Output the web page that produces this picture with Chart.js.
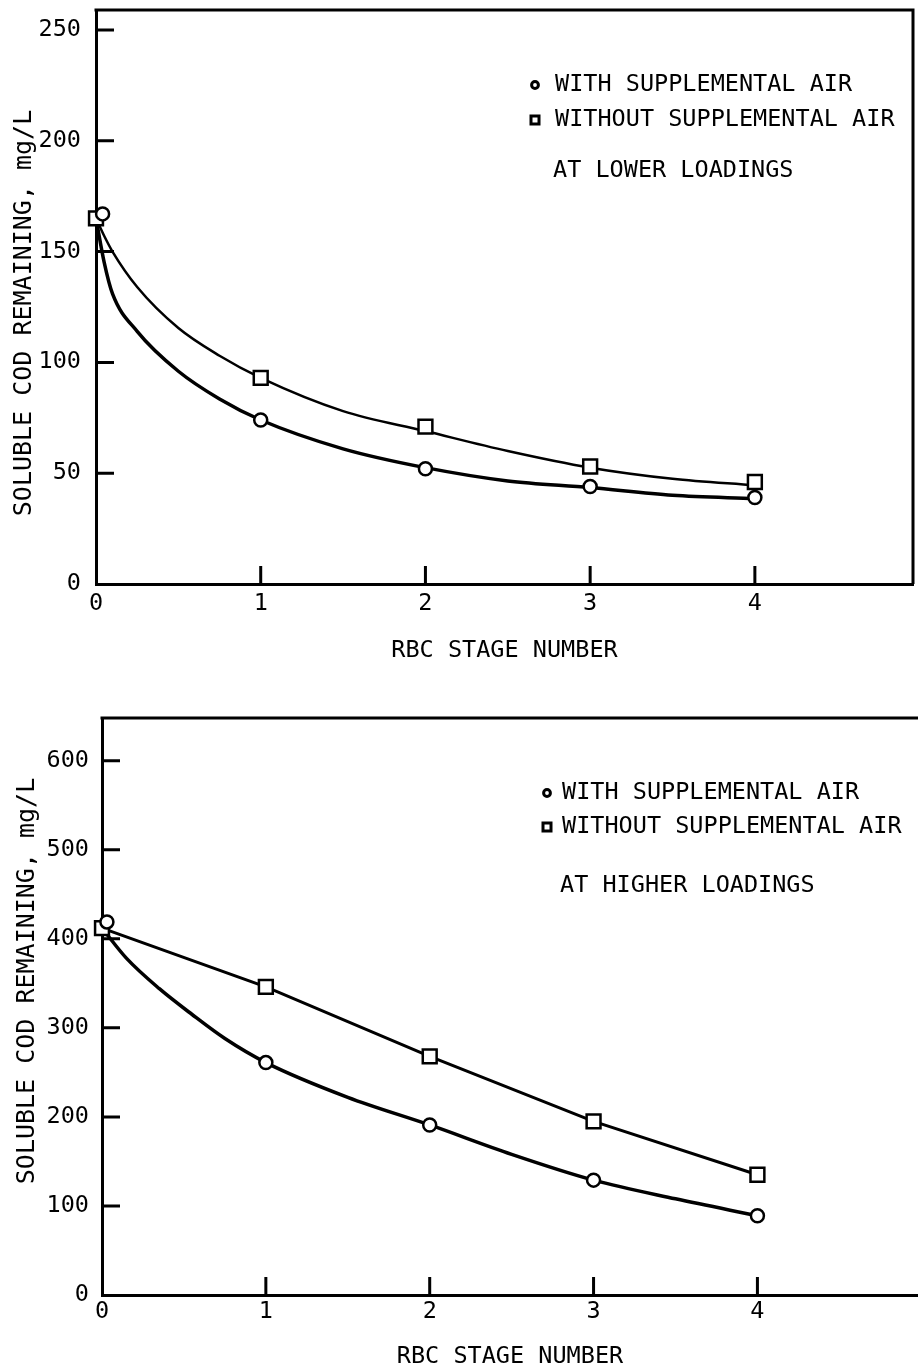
<!DOCTYPE html>
<html>
<head>
<meta charset="utf-8">
<script src="https://cdn.jsdelivr.net/npm/chart.js@4.4.1/dist/chart.umd.min.js"></script>
<style>
  html, body { margin: 0; padding: 0; background: #fff; }
  #page { position: relative; width: 918px; height: 1372px; overflow: hidden; }
  .box { position: absolute; left: 0; width: 918px; }
  #topBox { top: 0; height: 680px; }
  #bottomBox { top: 680px; height: 692px; }
</style>
</head>
<body>
<div id="page">
  <div class="box" id="topBox"><canvas id="lowerChart"></canvas></div>
  <div class="box" id="bottomBox"><canvas id="higherChart"></canvas></div>
</div>
<script>
// Values (RBC stage vs soluble COD, mg/L)
const stages = [0, 1, 2, 3, 4];
const seriesLabels = ['WITH SUPPLEMENTAL AIR', 'WITHOUT SUPPLEMENTAL AIR'];

// upper panel - lower loadings
const lowerWithStages = [0.04, 1, 2, 3, 4];
const lowerWithAir = [167, 74, 52, 44, 39];
const lowerWithoutAir = [165, 93, 71, 53, 46];
const lowerFitStages = [0, 0.05, 0.1, 0.25, 0.5, 0.75, 1, 1.5, 2, 2.5, 3, 3.5, 4];
const lowerFitWith = [165, 145, 131, 114, 96, 83.5, 74, 61, 52.5, 46.5, 43.5, 40, 38.5];
const lowerFitWithout = [165, 157, 150, 134, 115.5, 103, 93, 78, 69, 60, 52.5, 47.5, 44.5];
const lowerTicks = [0, 50, 100, 150, 200, 250];

// lower panel - higher loadings
const higherWithStages = [0.03, 1, 2, 3, 4];
const higherWithAir = [419, 261, 191, 129, 89];
const higherWithoutAir = [412, 346, 268, 195, 135];
const higherFitStages = [0, 0.15, 0.35, 0.55, 0.75, 1, 1.5, 2, 2.5, 3, 3.5, 4];
const higherFitWith = [412, 378, 344, 315, 288, 261, 222, 191, 158, 129, 108, 89];
const higherTicks = [0, 100, 200, 300, 400, 500, 600];

const yTitle = 'SOLUBLE COD REMAINING, mg/L';
const xTitle = 'RBC STAGE NUMBER';

const FONT = '"DejaVu Sans Mono", monospace';
Chart.defaults.font.family = FONT;
Chart.defaults.font.size = 23.5;
Chart.defaults.color = '#000';

const toXY = (xs, ys) => xs.map((x, i) => ({ x, y: ys[i] }));

// top/right frame, inward tick marks, side title and the in-plot key
const framePlugin = {
  id: 'frame',
  afterDraw(chart, args, opts) {
    const { ctx, chartArea: a, scales: { x, y } } = chart;
    ctx.save();
    ctx.strokeStyle = '#000';
    ctx.lineWidth = 3;
    ctx.beginPath();
    ctx.moveTo(a.left - 1.5, a.top);
    ctx.lineTo(a.right + 1.5, a.top);
    if (opts.rightBorder) {
      ctx.moveTo(a.right, a.top);
      ctx.lineTo(a.right, a.bottom);
    }
    y.ticks.forEach(t => {
      if (t.value <= y.min) return;
      const p = y.getPixelForValue(t.value);
      ctx.moveTo(a.left, p);
      ctx.lineTo(a.left + opts.tick, p);
    });
    x.ticks.forEach(t => {
      if (t.value <= x.min) return;
      const p = x.getPixelForValue(t.value);
      ctx.moveTo(p, a.bottom);
      ctx.lineTo(p, a.bottom - opts.tick);
    });
    ctx.stroke();

    ctx.fillStyle = '#000';

    // rotated y title
    ctx.save();
    ctx.translate(opts.yTitle.x, opts.yTitle.y);
    ctx.rotate(-Math.PI / 2);
    ctx.font = '25px ' + FONT;
    ctx.textAlign = 'center';
    ctx.textBaseline = 'middle';
    ctx.fillText(yTitle, 0, 0);
    ctx.restore();

    // key
    const k = opts.key;
    ctx.lineWidth = 3;
    ctx.beginPath();
    ctx.arc(k.markX, k.rowY[0], 3.4, 0, Math.PI * 2);
    ctx.stroke();
    ctx.strokeRect(k.markX - 4, k.rowY[1] - 4, 8, 8);
    ctx.font = '23.5px ' + FONT;
    ctx.textBaseline = 'middle';
    ctx.textAlign = 'left';
    seriesLabels.forEach((s, i) => ctx.fillText(s, k.textX, k.rowY[i]));
    ctx.fillText(k.note, k.noteX, k.noteY);
    ctx.restore();
  }
};

function buildChart(canvasId, cfg) {
  const markerBase = {
    showLine: false,
    borderColor: '#000',
    backgroundColor: '#fff',
    pointBorderWidth: 2.5,
    clip: false
  };
  const curveBase = {
    showLine: true,
    borderColor: '#000',
    pointRadius: 0,
    cubicInterpolationMode: 'monotone',
    fill: false,
    clip: false
  };
  return new Chart(document.getElementById(canvasId), {
    type: 'scatter',
    data: {
      datasets: [
        Object.assign({}, markerBase, {
          label: seriesLabels[0],
          data: toXY(cfg.withStages, cfg.withAir),
          pointStyle: 'circle',
          pointRadius: 6.5
        }),
        Object.assign({}, markerBase, {
          label: seriesLabels[1],
          data: toXY(stages, cfg.withoutAir),
          pointStyle: 'rect',
          pointRadius: 9.8,
          showLine: cfg.withoutLine,
          borderWidth: 3,
          tension: 0
        }),
        Object.assign({}, curveBase, {
          label: 'fit with',
          data: toXY(cfg.fitStages, cfg.fitWith),
          borderWidth: 3.5
        })
      ].concat(cfg.fitWithout ? [Object.assign({}, curveBase, {
          label: 'fit without',
          data: toXY(cfg.fitStages, cfg.fitWithout),
          borderWidth: 2.5
        })] : [])
    },
    options: {
      responsive: true,
      maintainAspectRatio: false,
      animation: false,
      events: [],
      layout: { padding: cfg.padding, autoPadding: false },
      plugins: {
        legend: { display: false },
        tooltip: { enabled: false },
        frame: { tick: 18, rightBorder: cfg.rightBorder, key: cfg.key, yTitle: cfg.yTitlePos }
      },
      scales: {
        x: {
          type: 'linear',
          min: 0,
          max: cfg.xMax,
          afterBuildTicks: s => { s.ticks = stages.map(v => ({ value: v })); },
          afterFit: s => { s.height = cfg.xHeight; s.paddingLeft = 0; s.paddingRight = 0; },
          grid: { display: false, drawTicks: false },
          border: { display: true, color: '#000', width: 3 },
          ticks: { padding: cfg.xTickPad, maxRotation: 0, callback: v => String(v) },
          title: { display: true, text: xTitle, padding: { top: 0, bottom: cfg.xTitlePad } }
        },
        y: {
          type: 'linear',
          min: 0,
          max: cfg.yMax,
          afterBuildTicks: s => { s.ticks = cfg.yTicks.map(v => ({ value: v })); },
          afterFit: s => { s.width = cfg.yWidth; s.paddingTop = 0; s.paddingBottom = 0; },
          grid: { display: false, drawTicks: false },
          border: { display: true, color: '#000', width: 3 },
          ticks: { padding: cfg.yTickPad, callback: v => String(v) },
          title: { display: false }
        }
      }
    },
    plugins: [framePlugin]
  });
}

buildChart('lowerChart', {
  withStages: lowerWithStages,
  withAir: lowerWithAir,
  withoutAir: lowerWithoutAir,
  withoutLine: false,
  fitStages: lowerFitStages,
  fitWith: lowerFitWith,
  fitWithout: lowerFitWithout,
  yTicks: lowerTicks,
  yMax: 259,
  xMax: 4.96,
  padding: { left: 0, right: 5, top: 10, bottom: 0 },
  xHeight: 96,
  yWidth: 96,
  xTickPad: 6,
  xTitlePad: 15,
  yTickPad: 15,
  yTitlePos: { x: 24, y: 313 },
  rightBorder: true,
  key: { markX: 535, textX: 555, rowY: [85, 120], note: 'AT LOWER LOADINGS', noteX: 553, noteY: 171 }
});

buildChart('higherChart', {
  withStages: higherWithStages,
  withAir: higherWithAir,
  withoutAir: higherWithoutAir,
  withoutLine: true,
  fitStages: higherFitStages,
  fitWith: higherFitWith,
  fitWithout: null,
  yTicks: higherTicks,
  yMax: 648,
  xMax: 4.98,
  padding: { left: 0, right: 0, top: 38, bottom: 0 },
  xHeight: 77,
  yWidth: 102,
  xTickPad: 3,
  xTitlePad: 1,
  yTickPad: 13,
  yTitlePos: { x: 27, y: 301 },
  rightBorder: false,
  key: { markX: 547, textX: 562, rowY: [113, 147], note: 'AT HIGHER LOADINGS', noteX: 560, noteY: 206 }
});
</script>
</body>
</html>
